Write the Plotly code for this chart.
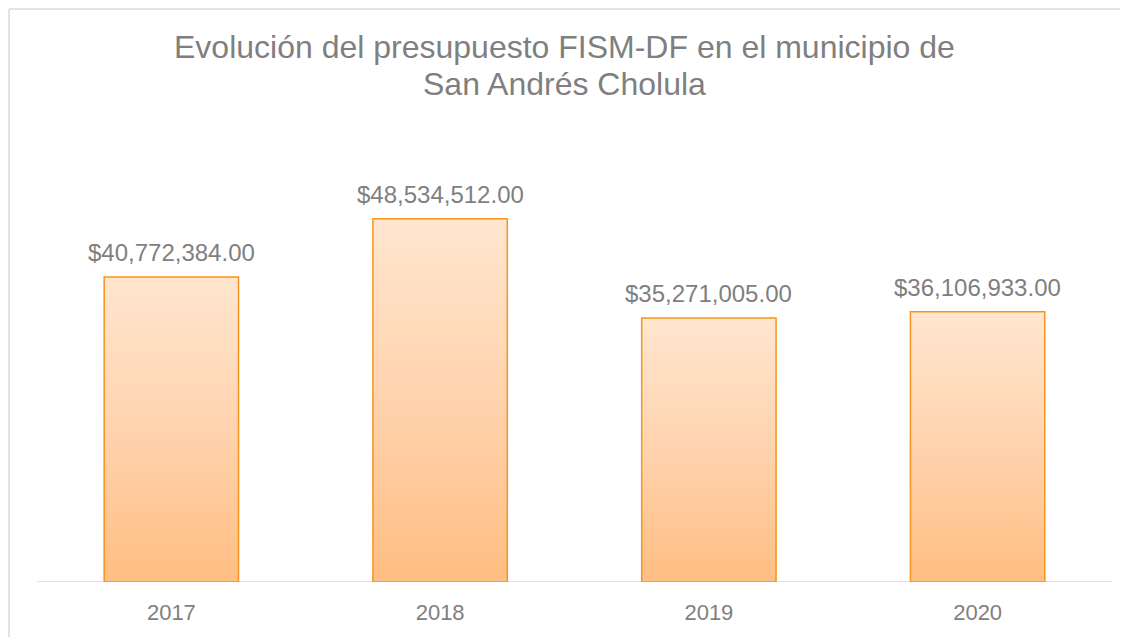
import plotly.graph_objects as go

years = ["2017", "2018", "2019", "2020"]
values = [40772384.00, 48534512.00, 35271005.00, 36106933.00]
labels = ["$40,772,384.00", "$48,534,512.00", "$35,271,005.00", "$36,106,933.00"]
title_lines = ["Evolución del presupuesto FISM-DF en el municipio de", "San Andrés Cholula"]

GRAY = "#7f7f7f"
BORDER = "#D9D9D9"
FONT = "Liberation Sans, Arial, sans-serif"
half_w = 0.25

# page body has an 8px margin, so the figure is sized/offset accordingly
W, H = 1120, 629
ML, MR, MT, MB = 29, 16, 125, 55
plot_w = W - ML - MR
plot_h = H - MT - MB

fig = go.Figure()

# gradient-filled bars (one per category, gradient relative to each bar)
for i, v in enumerate(values):
    xs = [i - half_w, i + half_w, i + half_w, i - half_w, i - half_w]
    ys = [0, 0, v, v, 0]
    fig.add_trace(go.Scatter(
        x=xs, y=ys, mode="lines", fill="toself",
        line=dict(color="#F7941D", width=1.5),
        fillgradient=dict(type="vertical",
                          colorscale=[[0, "#FFBE82"], [0.5, "#FFD3AE"], [1, "#FFE6CF"]]),
        hovertemplate=f"{years[i]}: {labels[i]}<extra></extra>",
        showlegend=False,
    ))

annotations = []
# data labels
for i, (v, lab) in enumerate(zip(values, labels)):
    annotations.append(dict(x=i, y=v, xref="x", yref="y", text=lab, showarrow=False,
                            yanchor="bottom", yshift=9,
                            font=dict(color=GRAY, size=24, family=FONT)))
# title lines, centred on the chart frame
title_cx = (556 - ML) / plot_w
for line, cy in zip(title_lines, [39, 76]):
    annotations.append(dict(x=title_cx, xref="paper", yref="paper", xanchor="center",
                            y=(H - MB - cy) / plot_h, yanchor="middle",
                            text=line, showarrow=False,
                            font=dict(color=GRAY, size=32, family=FONT)))

fig.update_layout(
    width=W, height=H,
    paper_bgcolor="white", plot_bgcolor="white",
    margin=dict(l=ML, r=MR, t=MT, b=MB),
    font=dict(family=FONT, color=GRAY),
    xaxis=dict(range=[-0.5, len(years) - 0.5], tickmode="array",
               tickvals=list(range(len(years))), ticktext=years,
               showgrid=False, zeroline=False, showline=False, ticks="",
               ticklabelstandoff=15,
               tickfont=dict(color=GRAY, size=22, family=FONT)),
    yaxis=dict(range=[0, 60000000], visible=False, showgrid=False, zeroline=False),
    annotations=annotations,
    shapes=[
        dict(type="line", xref="paper", yref="y", x0=0, x1=1, y0=0, y1=0,
             line=dict(color=BORDER, width=1.5), layer="below"),
    ],
)

# outer chart border (top and left edges visible in reference)
x_left = (1 - ML) / plot_w
y_top = (H - MB - 1) / plot_h
fig.add_shape(type="line", xref="paper", yref="paper",
              x0=x_left, x1=(W - ML) / plot_w, y0=y_top, y1=y_top,
              line=dict(color=BORDER, width=1.5))
fig.add_shape(type="line", xref="paper", yref="paper",
              x0=x_left, x1=x_left, y0=-MB / plot_h, y1=y_top,
              line=dict(color=BORDER, width=1.5))

fig.write_html("out.html")
